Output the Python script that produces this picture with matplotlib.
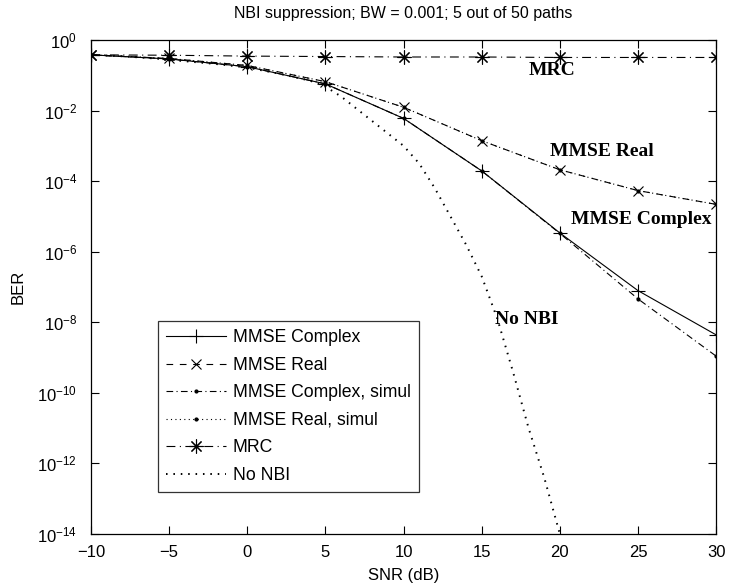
import matplotlib
matplotlib.use("Agg")
import matplotlib.pyplot as plt
import numpy as np

plt.rcParams["font.family"] = ["Liberation Sans", "DejaVu Sans"]

# values
snr = [-10, -5, 0, 5, 10, 15, 20, 25, 30]
ber_complex = [0.38, 0.29, 0.175, 0.057, 6.0e-3, 1.95e-4, 3.4e-6, 7.9e-8, 4.4e-9]
ber_real = [0.38, 0.30, 0.19, 0.066, 1.24e-2, 1.4e-3, 2.1e-4, 5.4e-5, 2.2e-5]
ber_complex_sim = [0.38, 0.29, 0.175, 0.057, 6.0e-3, 1.95e-4, 3.3e-6, 4.6e-8, 1.1e-9]
ber_real_sim = [0.38, 0.30, 0.19, 0.066, 1.24e-2, 1.4e-3, 2.1e-4, 5.4e-5, 2.2e-5]
ber_mrc = [0.38, 0.37, 0.35, 0.34, 0.33, 0.33, 0.32, 0.32, 0.32]

snr_nonbi = [-10, -8, -6, -4, -2, 0, 2, 4, 5, 6, 7, 8, 9, 10, 11, 12, 13, 14,
             15, 16, 17, 18, 19, 20]
log_ber_nonbi = [-0.42, -0.46, -0.52, -0.60, -0.68, -0.78, -0.95, -1.15, -1.32,
                 -1.6, -1.95, -2.3, -2.65, -3.0, -3.5, -4.2, -5.0, -5.8, -6.7,
                 -7.9, -9.4, -11.0, -12.4, -14.0]
ber_nonbi = [10.0 ** v for v in log_ber_nonbi]

fig = plt.figure(figsize=(7.3, 5.84), dpi=100)
ax = fig.add_axes([0.1247, 0.0856, 0.8563, 0.8459])

lw = 0.8
ax.semilogy(snr, ber_complex, color="k", lw=lw, ls="-", marker="+", ms=10,
            mew=lw, label="MMSE Complex")
ax.semilogy(snr, ber_real, color="k", lw=lw, ls=(0, (6, 6)), marker="x", ms=7,
            mew=lw, label="MMSE Real")
ax.semilogy(snr, ber_complex_sim, color="k", lw=lw, ls=(0, (6, 3, 1, 3)),
            marker=".", ms=4, label="MMSE Complex, simul")
ax.semilogy(snr, ber_real_sim, color="k", lw=lw, ls=(0, (1, 3)), marker=".",
            ms=4, label="MMSE Real, simul")
ax.semilogy(snr, ber_mrc, color="k", lw=lw, ls=(0, (8, 4, 1, 4)),
            marker=(8, 2, 0), ms=10, mew=lw, label="MRC")
ax.semilogy(snr_nonbi, ber_nonbi, color="k", lw=1.4, ls=(0, (0.8, 3)),
            label="No NBI")

ax.set_xlim(-10, 30)
ax.set_ylim(1e-14, 1)
ax.set_xticks(np.arange(-10, 31, 5))
ax.set_xticklabels(["\u221210", "\u22125", "0", "5", "10", "15", "20", "25", "30"])
ax.set_yticks([10.0 ** k for k in range(-14, 1, 2)])
ax.yaxis.set_minor_locator(matplotlib.ticker.NullLocator())
ax.tick_params(direction="in", length=6, width=0.8, top=True, right=True,
               labelsize=12, colors="k")
ax.tick_params(axis="x", pad=8)
ax.tick_params(axis="y", pad=10)
for s in ax.spines.values():
    s.set_linewidth(0.9)

ax.set_title("NBI suppression; BW = 0.001; 5 out of 50 paths", fontsize=11.5,
             pad=16)
ax.set_xlabel("SNR (dB)", fontsize=12, labelpad=6)
ax.set_ylabel("BER", fontsize=12, labelpad=8)

lab = dict(fontsize=14, fontweight="bold", family="Liberation Serif",
           ha="center", va="center")
ax.text(19.5, 10 ** -0.87, "MRC", **lab)
ax.text(22.7, 10 ** -3.16, "MMSE Real", **lab)
ax.text(25.2, 10 ** -5.10, "MMSE Complex", **lab)
ax.text(17.9, 10 ** -7.93, "No NBI", **lab)

leg = ax.legend(loc="lower left", bbox_to_anchor=(0.107, 0.085), fontsize=12.7,
                frameon=True, fancybox=False, edgecolor="k", handlelength=3.4,
                borderpad=0.45, labelspacing=0.6, handletextpad=0.4,
                borderaxespad=0)
leg.get_frame().set_linewidth(0.9)

fig.savefig("out.png", dpi=100)
